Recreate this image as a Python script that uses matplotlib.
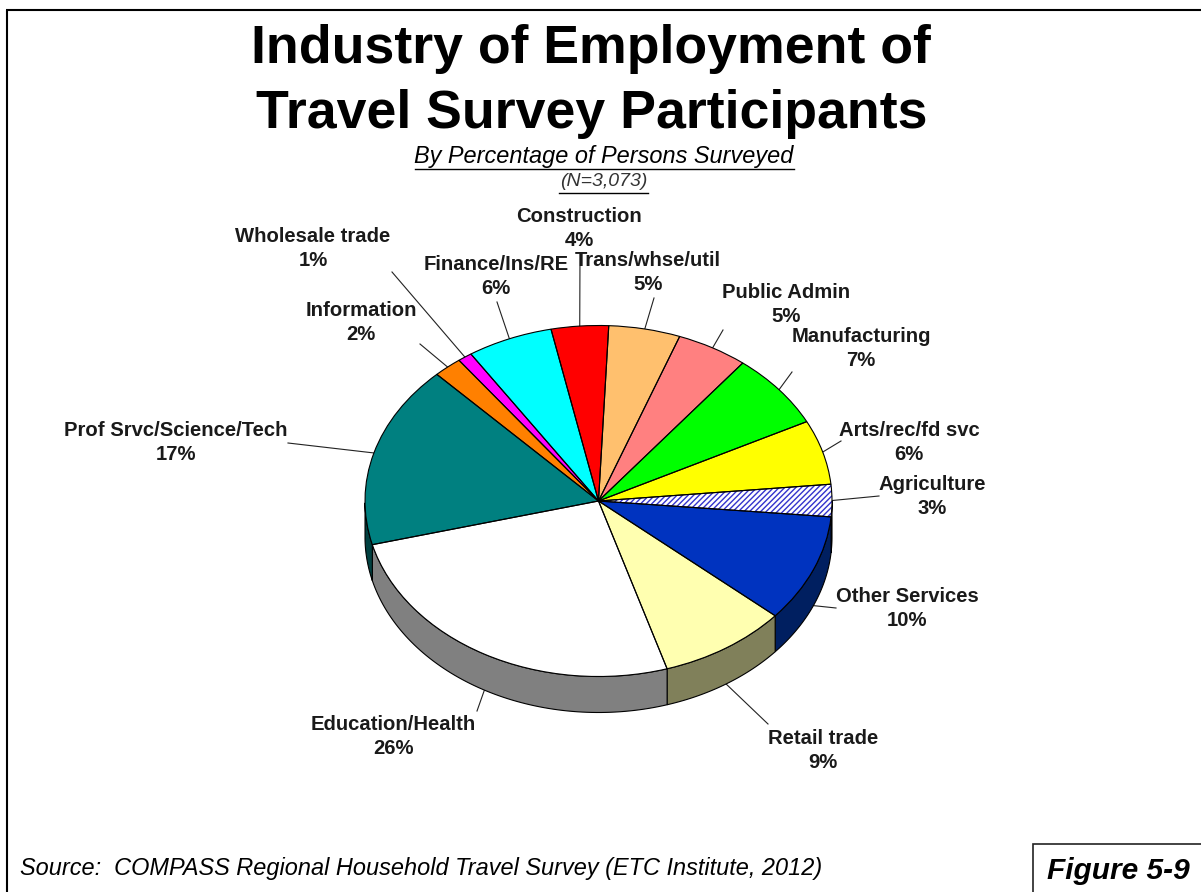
import numpy as np
import matplotlib
matplotlib.use('Agg')
import matplotlib.pyplot as plt
from matplotlib.patches import Polygon, Rectangle

plt.rcParams['font.family'] = ['Liberation Sans', 'DejaVu Sans']
plt.rcParams['hatch.linewidth'] = 1.0

# Slices in clockwise order, percentages as labelled
industries = ['Agriculture', 'Other Services', 'Retail trade', 'Education/Health',
              'Prof Srvc/Science/Tech', 'Information', 'Wholesale trade',
              'Finance/Ins/RE', 'Construction', 'Trans/whse/util', 'Public Admin',
              'Manufacturing', 'Arts/rec/fd svc']
percents = [3, 10, 9, 26, 17, 2, 1, 6, 4, 5, 5, 7, 6]
top_colors = ['white', '#0033BF', '#FFFFB0', 'white', '#008080', '#FF8000', '#FF00FF',
              '#00FFFF', '#FF0000', '#FFC06E', '#FF8080', '#00FF00', '#FFFF00']
side_colors = ['#7F7F7F', '#001F60', '#80805A', '#808080', '#004040', '#804000', '#800080',
               '#008080', '#800000', '#806037', '#804040', '#008000', '#808000']

# Label centres and the point each leader line runs to, in pixels
label_pos = [(932, 485), (907, 597), (823, 738), (393, 725), (176, 430), (361, 310), (313, 237),
             (496, 265), (579, 217), (648, 261), (786, 293), (861, 337), (909, 430)]
leader_end = [(879, 496), (836, 608), (768, 724), (477, 711), (288, 443), (420, 344), (392, 272),
              (497, 302), (580, 253), (654, 298), (723, 330), (792, 372), (841, 441)]

W, H = 1201, 892
CX, CY, RX, RY, DEPTH = 598.5, 501, 233.5, 175.5, 36
START = 5.5

fig = plt.figure(figsize=(W / 100, H / 100), dpi=100)
ax = fig.add_axes([0, 0, 1, 1])
ax.set_xlim(0, W)
ax.set_ylim(H, 0)
ax.axis('off')

# Pie axes: the unit circle is stretched into the tilted ellipse
pie_ax = fig.add_axes([(CX - 1.25 * RX) / W, 1 - (CY + 1.25 * RY) / H, 2.5 * RX / W, 2.5 * RY / H])
pie_ax.patch.set_alpha(0)

frac = np.array(percents) / sum(percents)
edges = START - 360 * np.concatenate([[0], np.cumsum(frac)])
drop = DEPTH / RY

# Side wall of the disc, only the part facing the viewer
for i in range(len(percents)):
    a0, a1 = edges[i + 1], edges[i]
    t = np.radians(np.linspace(a0, a1, 80))
    t = t[np.sin(t) <= 0]
    if len(t) == 0:
        continue
    xs = np.cos(t)
    ys = np.sin(t)
    pts = np.vstack([np.column_stack([xs, ys]), np.column_stack([xs[::-1], ys[::-1] - drop])])
    pie_ax.add_patch(Polygon(pts, closed=True, facecolor=side_colors[i], edgecolor='black', linewidth=0.8))

wedges, _ = pie_ax.pie(percents, colors=top_colors, startangle=START, counterclock=False,
                       wedgeprops=dict(edgecolor='none'))
wedges[0].set_hatch('//////')
wedges[0].set_edgecolor('#3333CC')
wedges[0].set_linewidth(0)
pie_ax.pie(percents, startangle=START, counterclock=False,
           wedgeprops=dict(fill=False, edgecolor='black', linewidth=0.8))
pie_ax.set_aspect('auto')
pie_ax.set_xlim(-1.25, 1.25)
pie_ax.set_ylim(-1.25, 1.25)

# Leader lines and labels
for i, name in enumerate(industries):
    mid = np.radians((edges[i] + edges[i + 1]) / 2)
    x0 = CX + RX * np.cos(mid)
    y0 = CY - RY * np.sin(mid)
    if np.sin(mid) < 0:
        y0 += DEPTH * min(1, -np.sin(mid) * 5)
    ax.plot([x0, leader_end[i][0]], [y0, leader_end[i][1]], color='#222222', lw=0.8, zorder=1)
    lx, ly = label_pos[i]
    ax.text(lx, ly, name, ha='center', va='center', fontsize=14.6, fontweight='bold', color='#1a1a1a', zorder=5)
    ax.text(lx, ly + 24, '%d%%' % percents[i], ha='center', va='center', fontsize=14.6, fontweight='bold',
            color='#1a1a1a', zorder=5)

# Titles
ax.text(591, 49, 'Industry of Employment of', ha='center', va='center', fontsize=38.6, fontweight='bold', color='black')
ax.text(592, 114, 'Travel Survey Participants', ha='center', va='center', fontsize=38.6, fontweight='bold', color='black')
ax.text(604, 157, 'By Percentage of Persons Surveyed', ha='center', va='center', fontsize=16.9, style='italic', color='black')
ax.plot([415, 794], [169, 169], color='black', lw=1.0)
ax.text(604, 182, '(N=3,073)', ha='center', va='center', fontsize=14, style='italic', color='#333333')
ax.plot([559, 648], [193, 193], color='black', lw=1.0)

# Footer
ax.text(20, 869, 'Source:  COMPASS Regional Household Travel Survey (ETC Institute, 2012)', ha='left', va='center',
        fontsize=16.9, style='italic', color='black')
ax.add_patch(Rectangle((1033, 844), 200, 80, facecolor='white', edgecolor='#222222', lw=1.2))
ax.text(1118, 871, 'Figure 5-9', ha='center', va='center', fontsize=21.5, style='italic', fontweight='bold', color='black')

# Outer frame, open on the right
ax.plot([7, 7], [H, 10], color='black', lw=1.5, solid_capstyle='butt')
ax.plot([6, W], [10, 10], color='black', lw=1.5, solid_capstyle='butt')

fig.savefig('out.png', dpi=100)
